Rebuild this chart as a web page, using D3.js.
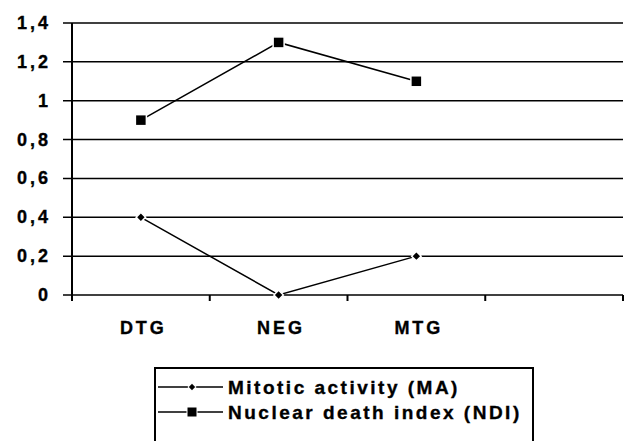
<!DOCTYPE html>
<html>
<head>
<meta charset="utf-8">
<script src="https://cdn.jsdelivr.net/npm/d3@7"></script>
<style>
  body { margin: 0; background: white; }
  text { font-family: "Liberation Sans", Arial, sans-serif; font-weight: bold; fill: black; stroke: black; stroke-width: 0.35px; }
</style>
</head>
<body>
<div class="chart"></div>
<script>
var categories = ["DTG", "NEG", "MTG", ""]
var maValues = [0.4, 0, 0.2]
var ndiValues = [0.9, 1.3, 1.1]
var yTicks = [0, 0.2, 0.4, 0.6, 0.8, 1, 1.2, 1.4]
var seriesNames = ["Mitotic activity (MA)", "Nuclear death index (NDI)"]

var svg = d3.select(".chart")
    .append("svg")
    .attr("width", 630)
    .attr("height", 441)

var x = d3.scaleBand()
    .domain(categories)
    .range([72, 623])

var y = d3.scaleLinear()
    .domain([0, 1.4])
    .range([295, 23])

var fmt = function(d) { return String(d).replace(".", ","); }

// gridlines
svg.selectAll(".grid")
    .data(yTicks)
    .enter().append("line")
    .attr("x1", 63)
    .attr("x2", 623)
    .attr("y1", function(d) { return y(d); })
    .attr("y2", function(d) { return y(d); })
    .attr("stroke", "black")
    .attr("stroke-width", 1.5)

// y axis
svg.append("line")
    .attr("x1", 72).attr("x2", 72)
    .attr("y1", 23).attr("y2", 301)
    .attr("stroke", "black")
    .attr("stroke-width", 2)

svg.selectAll(".ylab")
    .data(yTicks)
    .enter().append("text")
    .attr("x", 51)
    .attr("y", function(d) { return y(d) + 6; })
    .attr("text-anchor", "end")
    .style("font-size", "18px")
    .style("letter-spacing", "3px")
    .text(fmt)

// x axis ticks
var xTickPos = categories.map(function(c) { return x(c); }).concat([x.range()[1]])
svg.selectAll(".xtick")
    .data(xTickPos)
    .enter().append("line")
    .attr("x1", function(d) { return d; })
    .attr("x2", function(d) { return d; })
    .attr("y1", y(0))
    .attr("y2", y(0) + 6)
    .attr("stroke", "black")
    .attr("stroke-width", 2)

svg.selectAll(".xlab")
    .data(categories)
    .enter().append("text")
    .attr("x", function(d) { return x(d) + x.bandwidth() / 2 + 2.5; })
    .attr("y", 334)
    .attr("text-anchor", "middle")
    .style("font-size", "18px")
    .style("letter-spacing", "3px")
    .text(function(d) { return d; })

var line = d3.line()
    .x(function(d, i) { return x(categories[i]) + x.bandwidth() / 2; })
    .y(function(d) { return y(d); })

svg.append("path")
    .datum(maValues)
    .attr("d", line)
    .attr("fill", "none")
    .attr("stroke", "black")
    .attr("stroke-width", 1.5)

svg.append("path")
    .datum(ndiValues)
    .attr("d", line)
    .attr("fill", "none")
    .attr("stroke", "black")
    .attr("stroke-width", 1.5)

var diamond = d3.symbol().type(d3.symbolSquare).size(45)

svg.selectAll(".maPt")
    .data(maValues)
    .enter().append("path")
    .attr("d", diamond)
    .attr("transform", function(d, i) {
        return "translate(" + (x(categories[i]) + x.bandwidth() / 2) + "," + y(d) + ") rotate(45)"
    })
    .attr("fill", "black")
    .attr("stroke", "white")
    .attr("stroke-width", 1.5)

svg.selectAll(".ndiPt")
    .data(ndiValues)
    .enter().append("rect")
    .attr("x", function(d, i) { return x(categories[i]) + x.bandwidth() / 2 - 5.5; })
    .attr("y", function(d) { return y(d) - 5.5; })
    .attr("width", 11)
    .attr("height", 11)
    .attr("fill", "black")
    .attr("stroke", "white")
    .attr("stroke-width", 1.5)

// legend
var legend = svg.append("g")
    .attr("transform", "translate(155,368)")

legend.append("rect")
    .attr("width", 378)
    .attr("height", 80)
    .attr("fill", "white")
    .attr("stroke", "black")
    .attr("stroke-width", 2)

var legendItem = legend.selectAll(".legendItem")
    .data(seriesNames)
    .enter().append("g")
    .attr("transform", function(d, i) {
        return "translate(0," + (19 + i * 25) + ")"
    })

legendItem.append("line")
    .attr("x1", 3)
    .attr("x2", 68)
    .attr("stroke", "black")
    .attr("stroke-width", 1.5)

legendItem.each(function(d, i) {
    var g = d3.select(this)
    if (i === 0) {
        g.append("path")
            .attr("d", d3.symbol().type(d3.symbolSquare).size(30))
            .attr("transform", "translate(37,0) rotate(45)")
            .attr("fill", "black")
            .attr("stroke", "white")
    } else {
        g.append("rect")
            .attr("x", 32).attr("y", -5)
            .attr("width", 10).attr("height", 10)
            .attr("fill", "black")
            .attr("stroke", "white")
    }
})

legendItem.append("text")
    .attr("x", 73)
    .attr("y", 7)
    .style("font-size", "19px")
    .style("letter-spacing", "2.5px")
    .text(function(d) { return d; })
</script>
</body>
</html>
